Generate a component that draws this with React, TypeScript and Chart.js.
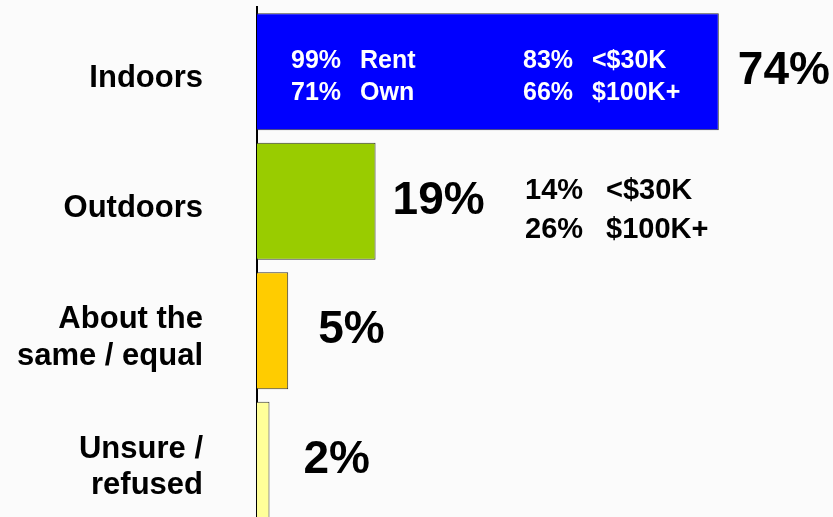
import { useEffect, useRef } from 'react';
import { Chart, registerables } from 'chart.js';

Chart.register(...registerables);

const categories: string[][] = [['Indoors'], ['Outdoors'], ['About the', 'same / equal'], ['Unsure /', 'refused']];
const shares: number[] = [74, 19, 5, 2];
const valueLabels: string[] = ['74%', '19%', '5%', '2%'];
const barColors: string[] = ['#0000FF', '#99CC00', '#FFCC00', '#FFFF99'];
const indoorsByTenure: string[][] = [['99%', 'Rent'], ['71%', 'Own']];
const indoorsByIncome: string[][] = [['83%', '<$30K'], ['66%', '$100K+']];
const outdoorsByIncome: string[][] = [['14%', '<$30K'], ['26%', '$100K+']];

const FONT = '"Liberation Sans", Arial, Helvetica, sans-serif';

const labelPlugin = {
  id: 'labelPlugin',
  afterDatasetsDraw(chart: any) {
    const ctx = chart.ctx;
    const meta = chart.getDatasetMeta(0);
    const left = chart.chartArea.left;
    ctx.save();
    ctx.textBaseline = 'middle';
    ctx.textAlign = 'left';

    // value labels
    const gaps = [19, 17, 30, 34];
    ctx.font = `bold 46px ${FONT}`;
    ctx.fillStyle = '#000';
    meta.data.forEach((bar: any, i: number) => {
      ctx.fillText(valueLabels[i], bar.x + gaps[i], bar.y);
    });

    // inside Indoors bar
    const b0 = meta.data[0];
    ctx.font = `bold 25px ${FONT}`;
    ctx.fillStyle = '#FFFFFF';
    const rows0 = [b0.y - 11, b0.y + 21];
    indoorsByTenure.forEach((r, k) => {
      ctx.fillText(r[0], left + 34, rows0[k]);
      ctx.fillText(r[1], left + 103, rows0[k]);
    });
    indoorsByIncome.forEach((r, k) => {
      ctx.fillText(r[0], left + 266, rows0[k]);
      ctx.fillText(r[1], left + 335, rows0[k]);
    });

    // beside Outdoors bar
    const b1 = meta.data[1];
    ctx.font = `bold 29px ${FONT}`;
    ctx.fillStyle = '#000';
    const rows1 = [b1.y - 10, b1.y + 29];
    outdoorsByIncome.forEach((r, k) => {
      ctx.fillText(r[0], left + 268, rows1[k]);
      ctx.fillText(r[1], left + 349, rows1[k]);
    });
    ctx.restore();
  },
};

export default function App() {
  const ref = useRef<HTMLCanvasElement | null>(null);
  useEffect(() => {
    if (!ref.current) return;
    const chart = new Chart(ref.current, {
      type: 'bar',
      data: {
        labels: categories,
        datasets: [
          {
            data: shares,
            backgroundColor: barColors,
            borderColor: '#333333',
            borderWidth: 1,
            barPercentage: 0.903,
            categoryPercentage: 1,
          },
        ],
      },
      options: {
        indexAxis: 'y',
        animation: false,
        responsive: false,
        devicePixelRatio: 1,
        layout: { padding: { top: 7, left: 0, right: 0, bottom: 0 } },
        plugins: {
          legend: { display: false },
          tooltip: { enabled: false },
        },
        scales: {
          x: { display: false, min: 0, max: 92.3 },
          y: {
            grid: { display: false },
            border: { display: true, color: '#000', width: 2 },
            ticks: {
              autoSkip: false,
              padding: 46,
              color: '#000',
              labelOffset: 7,
              font: { family: FONT, size: 31, weight: 'bold', lineHeight: 1.18 },
            },
            afterFit: (s: any) => {
              s.width = 257;
              s.paddingTop = 0;
              s.paddingBottom = 0;
            },
          },
        },
      },
      plugins: [labelPlugin],
    } as any);
    return () => chart.destroy();
  }, []);
  return (
    <div
      style={{
        position: 'fixed',
        top: 0,
        left: 0,
        width: 833,
        height: 517,
        overflow: 'hidden',
        background: '#fbfbfb',
      }}
    >
      <canvas ref={ref} width={833} height={525} style={{ display: 'block', width: 833, height: 525 }} />
    </div>
  );
}
